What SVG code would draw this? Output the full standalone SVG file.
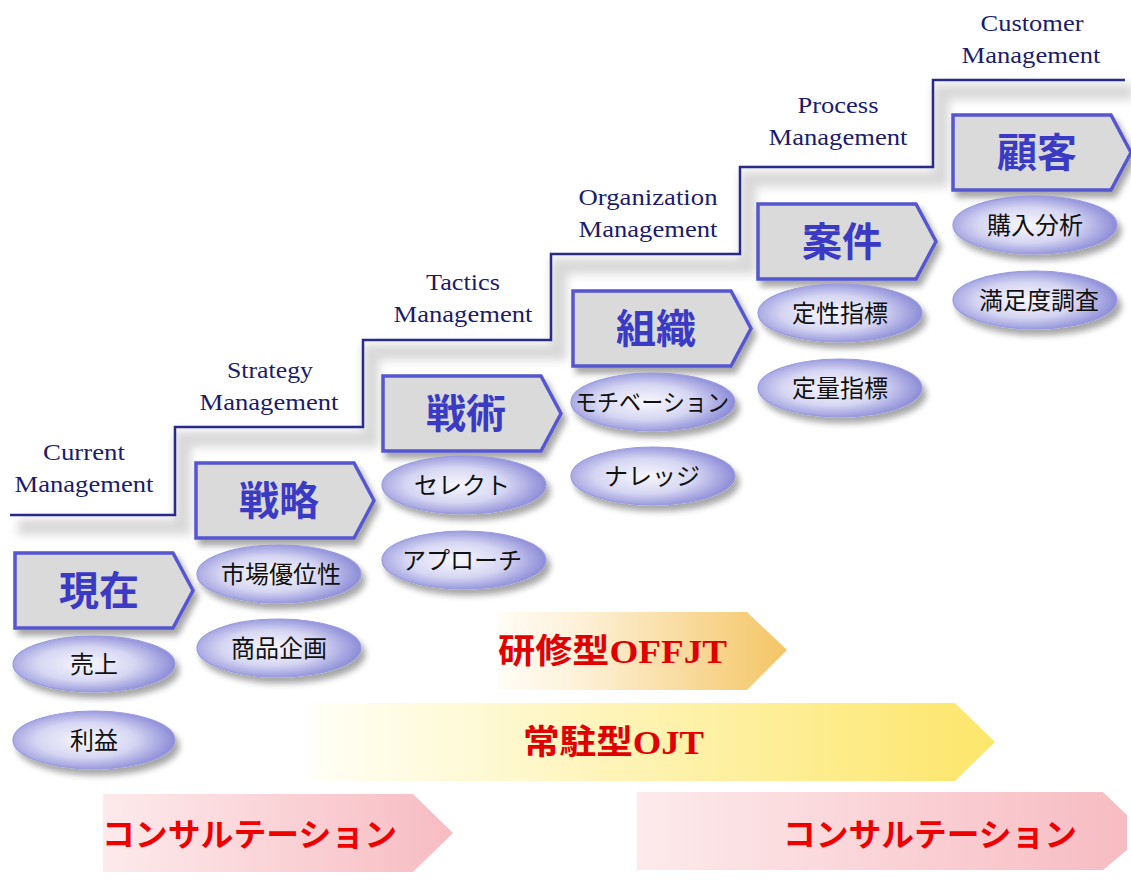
<svg xmlns="http://www.w3.org/2000/svg" xmlns:xlink="http://www.w3.org/1999/xlink" width="1131" height="890" viewBox="0 0 1131 890">
<style>
.lbl{font-family:"Liberation Serif","Times New Roman",serif;font-size:23px;fill:#1c1c6c;text-anchor:middle}
.chev{fill:#dadada;stroke:#5656d0;stroke-width:3.5;stroke-linejoin:miter}
.ctxt{font-family:"Noto Sans CJK JP","Noto Sans",sans-serif;font-weight:bold;font-size:40px;fill:#3a3ac4;text-anchor:middle}
.ell{fill:url(#eg);stroke:#9a9ade;stroke-width:1.2}
.etxt{font-family:"Noto Sans CJK JP","Noto Sans",sans-serif;font-size:24px;fill:#111;text-anchor:middle}
.band-r{font-family:"Liberation Serif","Noto Sans CJK JP",serif;font-weight:bold;font-size:34px;fill:#e00000}
.band-s{font-family:"Noto Sans CJK JP","Noto Sans",sans-serif;font-weight:bold;font-size:32px;fill:#ee0000}
</style>
<defs>
<radialGradient id="eg" cx="45%" cy="50%" r="55%">
<stop offset="0" stop-color="#f8f8fe"/>
<stop offset="0.55" stop-color="#d6d6f3"/>
<stop offset="1" stop-color="#8c8cd8"/>
</radialGradient>
<linearGradient id="gOff" x1="0" y1="0" x2="1" y2="0">
<stop offset="0" stop-color="#fffdf6"/>
<stop offset="0.3" stop-color="#fdf0d6"/>
<stop offset="1" stop-color="#f4c565"/>
</linearGradient>
<linearGradient id="gOjt" x1="0" y1="0" x2="1" y2="0">
<stop offset="0" stop-color="#fffff6"/>
<stop offset="1" stop-color="#fde66a"/>
</linearGradient>
<linearGradient id="gCon" x1="0" y1="0" x2="1" y2="0">
<stop offset="0" stop-color="#fdeaec"/>
<stop offset="1" stop-color="#f7bcc2"/>
</linearGradient>
<filter id="sh" x="-20%" y="-20%" width="150%" height="160%">
<feGaussianBlur in="SourceAlpha" stdDeviation="3"/>
<feOffset dx="4" dy="6" result="b"/>
<feComponentTransfer><feFuncA type="linear" slope="0.35"/></feComponentTransfer>
<feMerge><feMergeNode/><feMergeNode in="SourceGraphic"/></feMerge>
</filter>
<filter id="blur"><feGaussianBlur stdDeviation="5"/></filter>
<path id="chevp" d="M0,0 H158 L178,37.5 L158,75 H0 Z"/>
</defs>
<rect width="1131" height="890" fill="#ffffff"/>

<g id="staircase">
<path d="M10,515 H175 V427 H363 V340 H551 V254 H740 V167 H933 V80 H1125" fill="none" stroke="#cfcfcf" stroke-width="16" transform="translate(8,12)" filter="url(#blur)" opacity="0.8"/>
<path d="M10,515 H175 V427 H363 V340 H551 V254 H740 V167 H933 V80 H1125" fill="none" stroke="#2a2a8c" stroke-width="2.5"/>
</g>

<g id="labels">
<text class="lbl" x="84" y="460" textLength="82" lengthAdjust="spacingAndGlyphs">Current</text>
<text class="lbl" x="84" y="492" textLength="139" lengthAdjust="spacingAndGlyphs">Management</text>
<text class="lbl" x="270" y="378" textLength="86" lengthAdjust="spacingAndGlyphs">Strategy</text>
<text class="lbl" x="269" y="410" textLength="139" lengthAdjust="spacingAndGlyphs">Management</text>
<text class="lbl" x="463" y="290" textLength="74" lengthAdjust="spacingAndGlyphs">Tactics</text>
<text class="lbl" x="463" y="322" textLength="139" lengthAdjust="spacingAndGlyphs">Management</text>
<text class="lbl" x="648" y="205" textLength="139" lengthAdjust="spacingAndGlyphs">Organization</text>
<text class="lbl" x="648" y="237" textLength="139" lengthAdjust="spacingAndGlyphs">Management</text>
<text class="lbl" x="838" y="113" textLength="81" lengthAdjust="spacingAndGlyphs">Process</text>
<text class="lbl" x="838" y="145" textLength="139" lengthAdjust="spacingAndGlyphs">Management</text>
<text class="lbl" x="1032" y="31" textLength="103" lengthAdjust="spacingAndGlyphs">Customer</text>
<text class="lbl" x="1031" y="63" textLength="139" lengthAdjust="spacingAndGlyphs">Management</text>
</g>

<g id="node-genzai">
<use xlink:href="#chevp" href="#chevp" class="chev" x="15" y="553" filter="url(#sh)"/>
<text class="ctxt" x="99" y="605">現在</text>
<ellipse class="ell" cx="94" cy="664" rx="81" ry="28" filter="url(#sh)"/>
<text class="etxt" x="94" y="673">売上</text>
<ellipse class="ell" cx="94" cy="740" rx="81" ry="29" filter="url(#sh)"/>
<text class="etxt" x="94" y="749">利益</text>
</g>

<g id="node-senryaku">
<use xlink:href="#chevp" href="#chevp" class="chev" x="196" y="463" filter="url(#sh)"/>
<text class="ctxt" x="279" y="515">戦略</text>
<ellipse class="ell" cx="279" cy="574" rx="82" ry="29" filter="url(#sh)"/>
<text class="etxt" x="281" y="583">市場優位性</text>
<ellipse class="ell" cx="279" cy="648" rx="82" ry="29" filter="url(#sh)"/>
<text class="etxt" x="279" y="657">商品企画</text>
</g>

<g id="node-senjutsu">
<use xlink:href="#chevp" href="#chevp" class="chev" x="383" y="376" filter="url(#sh)"/>
<text class="ctxt" x="466" y="428">戦術</text>
<ellipse class="ell" cx="464" cy="485" rx="82" ry="29" filter="url(#sh)"/>
<text class="etxt" x="462" y="494">セレクト</text>
<ellipse class="ell" cx="464" cy="560" rx="82" ry="29" filter="url(#sh)"/>
<text class="etxt" x="462" y="569">アプローチ</text>
</g>

<g id="node-soshiki">
<use xlink:href="#chevp" href="#chevp" class="chev" x="573" y="291" filter="url(#sh)"/>
<text class="ctxt" x="656" y="343">組織</text>
<ellipse class="ell" cx="653" cy="402" rx="82" ry="29" filter="url(#sh)"/>
<text class="etxt" x="652" y="411" textLength="154" lengthAdjust="spacingAndGlyphs">モチベーション</text>
<ellipse class="ell" cx="653" cy="476" rx="82" ry="29" filter="url(#sh)"/>
<text class="etxt" x="652" y="485">ナレッジ</text>
</g>

<g id="node-anken">
<use xlink:href="#chevp" href="#chevp" class="chev" x="758" y="204" filter="url(#sh)"/>
<text class="ctxt" x="842" y="256">案件</text>
<ellipse class="ell" cx="840" cy="313" rx="82" ry="29" filter="url(#sh)"/>
<text class="etxt" x="840" y="322">定性指標</text>
<ellipse class="ell" cx="840" cy="388" rx="82" ry="29" filter="url(#sh)"/>
<text class="etxt" x="840" y="397">定量指標</text>
</g>

<g id="node-kokyaku">
<use xlink:href="#chevp" href="#chevp" class="chev" x="953" y="115" filter="url(#sh)"/>
<text class="ctxt" x="1037" y="167">顧客</text>
<ellipse class="ell" cx="1035" cy="225" rx="82" ry="29" filter="url(#sh)"/>
<text class="etxt" x="1035" y="234">購入分析</text>
<ellipse class="ell" cx="1035" cy="300" rx="82" ry="29" filter="url(#sh)"/>
<text class="etxt" x="1039" y="309">満足度調査</text>
</g>

<g id="band-offjt">
<path d="M497,612 H747 L787,650 L747,690 H497 Z" fill="url(#gOff)"/>
<text class="band-r" x="498" y="663" textLength="229" lengthAdjust="spacingAndGlyphs">研修型OFFJT</text>
</g>

<g id="band-ojt">
<path d="M310,703 H955 L995,742 L955,781 H310 Z" fill="url(#gOjt)"/>
<text class="band-r" x="523" y="754" textLength="181" lengthAdjust="spacingAndGlyphs">常駐型OJT</text>
</g>

<g id="band-consult-1">
<path d="M103,794 H413 L453,833 L413,872 H103 Z" fill="url(#gCon)"/>
<text class="band-s" x="102" y="846" textLength="295" lengthAdjust="spacingAndGlyphs">コンサルテーション</text>
</g>

<g id="band-consult-2">
<path d="M637,792 H1103 L1127,815 V850 L1103,870 H637 Z" fill="url(#gCon)"/>
<text class="band-s" x="783" y="846" textLength="294" lengthAdjust="spacingAndGlyphs">コンサルテーション</text>
</g>
</svg>
